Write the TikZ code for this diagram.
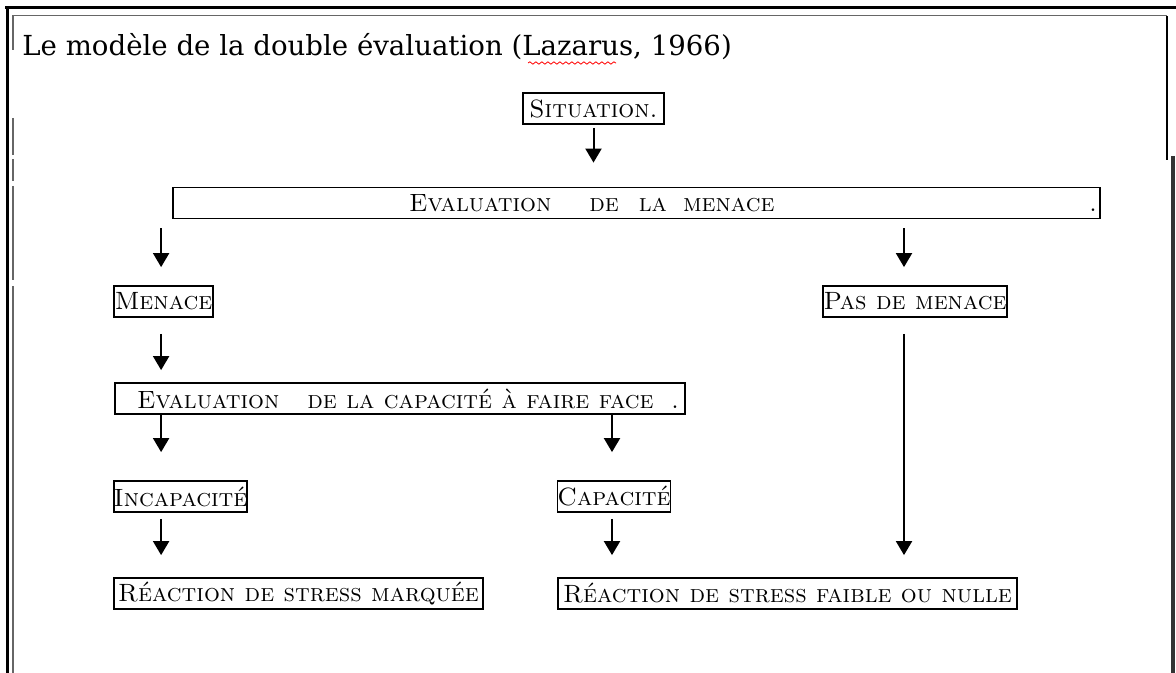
\documentclass[tikz,border=0pt]{standalone}
\usepackage{fontspec}
\newfontfamily\titlefont{DejaVu Serif}
\usepackage{tikz}
\usetikzlibrary{arrows.meta, calc, decorations.pathmorphing}

\begin{document}
\begin{tikzpicture}[x=0.5pt, y=-0.5pt, >={Triangle[width=8pt,length=7pt]},
  box/.style={draw, line width=0.9pt, inner sep=0pt, minimum height=15.5pt,
    font=\fontsize{12.5}{14}\selectfont\scshape},
  arr/.style={->, line width=1pt}]
  \useasboundingbox (0,0) rectangle (1176,673);
  \draw[line width=1.5pt] (5,8) -- (1176,8);
  \draw[line width=1.5pt] (7,8) -- (7,673);
  \draw[line width=0.5pt, black!60] (12,16) -- (1167,16);
  \draw[line width=0.8pt] (1167,16) -- (1167,160);
  \draw[line width=1.6pt, black!80] (1173,156) -- (1173,673);
  \draw[line width=0.6pt, black!60] (13,16) -- (13,50) (13,118) -- (13,155) (13,159) -- (13,181) (13,186) -- (13,280) (13,286) -- (13,673);

  \node[anchor=base west, inner sep=0pt, font=\titlefont\fontsize{13.8}{16}\selectfont] (title) at (22,56) {Le modèle de la double évaluation (Lazarus, 1966)};
  \draw[red, line width=0.4pt, decorate, decoration={snake, amplitude=0.6pt, segment length=3pt}] (528,63) -- (616,63);

  \node[box, minimum width=70.5pt] (sit) at (593.5,108.5) {Situation.};
  \node[box, minimum width=463.5pt] (evm) at (636.5,203) {\makebox[463.5pt][l]{\hspace{118pt}Evaluation\hspace{19pt}de\hspace{10pt}la\hspace{8pt}menace\hfill.\hspace{1.5pt}}};
  \node[box, minimum width=49.5pt] (men) at (163.5,301.5) {Menace};
  \node[box, minimum width=92pt] (pas) at (915,301.5) {Pas de menace};
  \node[box, minimum width=285pt] (evc) at (400,398.5) {\makebox[285pt][l]{\hspace{11pt}Evaluation\hspace{14pt}de la capacité à faire face\hfill.\hspace{3pt}}};
  \node[box, minimum width=66.5pt] (inc) at (180.5,496.5) {Incapacité};
  \node[box, minimum width=56pt] (cap) at (614,496.5) {Capacité};
  \node[box, minimum width=184.5pt] (rsm) at (298.5,593.5) {Réaction de stress marquée};
  \node[box, minimum width=229.5pt] (rsf) at (787.5,593.5) {Réaction de stress faible ou nulle};

  \draw[arr, shorten <=1.5pt, shorten >=12pt] (sit.south) -- (sit.south |- evm.north);
  \draw[arr, shorten <=4.5pt, shorten >=9pt] ([xshift=-1.2pt]men.north |- evm.south) -- ([xshift=-1.2pt]men.north);
  \draw[arr, shorten <=4.5pt, shorten >=9pt] ([xshift=-5.5pt]pas.north |- evm.south) -- ([xshift=-5.5pt]pas.north);
  \draw[arr, shorten <=8pt, shorten >=6pt] ([xshift=-1.2pt]men.south) -- ([xshift=-1.2pt]men.south |- evc.north);
  \draw[arr, shorten >=14pt] ([xshift=-1.2pt]evc.south -| men) -- ([xshift=-1.2pt]inc.north -| men);
  \draw[arr, shorten >=14pt] ([xshift=-1pt]evc.south -| cap) -- ([xshift=-1pt]cap.north);
  \draw[arr, shorten <=3pt, shorten >=11pt] ([xshift=-1.2pt]inc.south -| men) -- ([xshift=-1.2pt]rsm.north -| men);
  \draw[arr, shorten <=3pt, shorten >=11pt] ([xshift=-1pt]cap.south) -- ([xshift=-1pt]cap.south |- rsf.north);
  \draw[arr, shorten <=8pt, shorten >=11pt] ([xshift=-5.5pt]pas.south) -- ([xshift=-5.5pt]pas.south |- rsf.north);
\end{tikzpicture}
\end{document}
